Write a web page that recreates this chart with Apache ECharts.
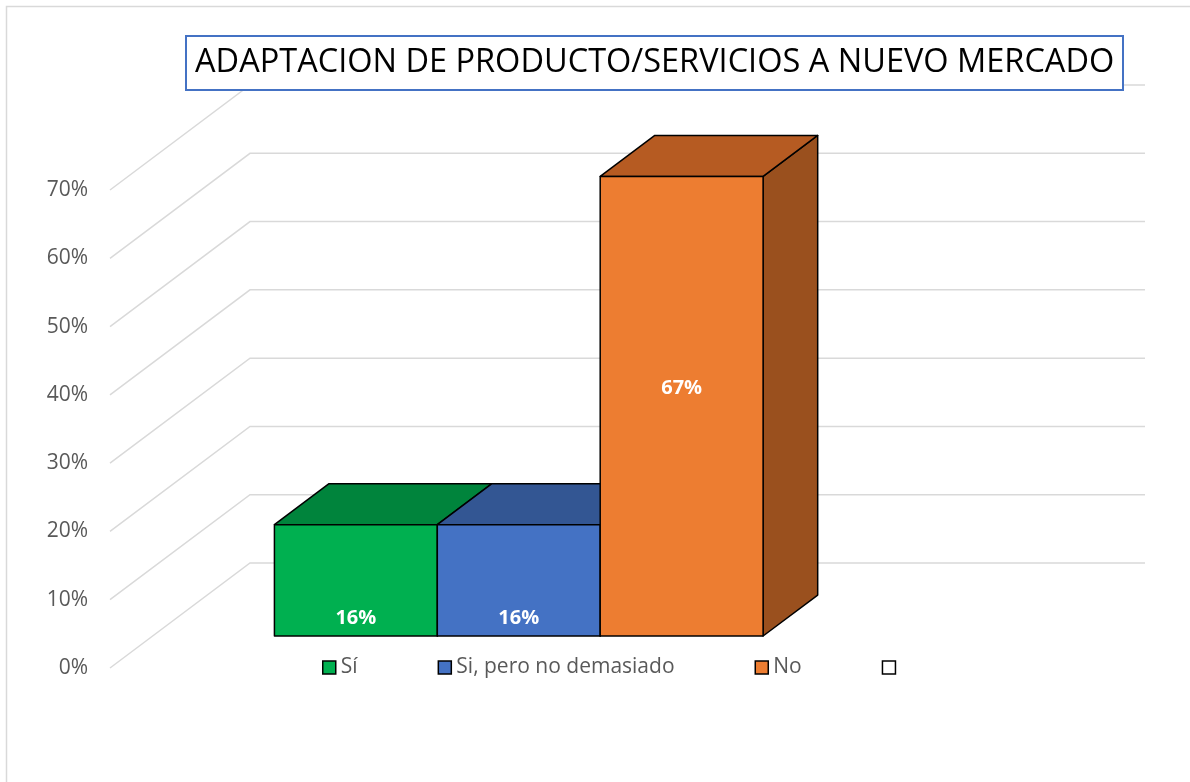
<!DOCTYPE html>
<html>
<head>
<meta charset="utf-8">
<title>Adaptacion de producto/servicios a nuevo mercado</title>
<script src="https://cdn.jsdelivr.net/npm/echarts@6/dist/echarts.min.js"></script>
<style>
  html, body { margin: 0; padding: 0; background: #fff; }
  #chart { width: 1190px; height: 782px; }
</style>
</head>
<body>
<div id="chart"></div>
<script>
const categories = ['Respuesta'];
const seriesNames = ['Sí', 'Si, pero no demasiado', 'No', ' '];
const values = [0.163, 0.163, 0.673, null];
const yTicks = [0, 0.1, 0.2, 0.3, 0.4, 0.5, 0.6, 0.7];

// front / top / side shades for each series
const faceColors = [
  { front: '#00B050', top: '#00843C', side: '#007A37' },
  { front: '#4472C4', top: '#335693', side: '#2E4D84' },
  { front: '#ED7D31', top: '#B65B22', side: '#9A501E' },
  { front: '#FFFFFF', top: '#FFFFFF', side: '#FFFFFF' }
];

const DEPTH_X = 140, DEPTH_Y = -105;       // back wall offset from the front plane
const BAR_FRONT = 0.305, BAR_BACK = 0.695; // bar faces as a share of the depth
const BAR_SHARE = 0.182;                   // one bar as a share of the category band
const FONT = '"Open Sans", "Noto Sans", sans-serif';

const chart = echarts.init(document.getElementById('chart'));

const renderWall = (params, api) => {
  const cs = params.coordSys;
  const y = api.coord([0, api.value(1)])[1];
  const x0 = cs.x, x1 = cs.x + cs.width;
  return {
    type: 'polyline',
    shape: { points: [[x0, y], [x0 + DEPTH_X, y + DEPTH_Y], [x1 + DEPTH_X, y + DEPTH_Y]] },
    style: { stroke: '#D9D9D9', lineWidth: 1.5, fill: 'none' }
  };
};

const makeBarRender = (i) => (params, api) => {
  const base = api.coord([api.value(0), 0]);
  const peak = api.coord([api.value(0), api.value(1)]);
  const w = api.size([1, 0])[0] * BAR_SHARE;
  const left = base[0] + (i - seriesNames.length / 2) * w;
  const fx = DEPTH_X * BAR_FRONT, fy = DEPTH_Y * BAR_FRONT;
  const dx = DEPTH_X * (BAR_BACK - BAR_FRONT), dy = DEPTH_Y * (BAR_BACK - BAR_FRONT);
  const xl = left + fx, xr = left + w + fx;
  const yb = base[1] + fy, yt = peak[1] + fy;
  const h = yb - yt;
  const c = faceColors[i];
  const edge = { stroke: '#000', lineWidth: 1.5, lineJoin: 'round' };
  const labelY = h > 200 ? yt + h * 0.46 : yb - 18;
  return {
    type: 'group',
    children: [
      { type: 'polygon', shape: { points: [[xr, yt], [xr + dx, yt + dy], [xr + dx, yb + dy], [xr, yb]] },
        style: Object.assign({ fill: c.side }, edge) },
      { type: 'polygon', shape: { points: [[xl, yt], [xr, yt], [xr + dx, yt + dy], [xl + dx, yt + dy]] },
        style: Object.assign({ fill: c.top }, edge) },
      { type: 'polygon', shape: { points: [[xl, yb], [xr, yb], [xr, yt], [xl, yt]] },
        style: Object.assign({ fill: c.front }, edge) },
      { type: 'text', z2: 10,
        style: { text: Math.round(api.value(1) * 100) + '%', x: (xl + xr) / 2, y: labelY,
          fill: '#fff', fontSize: 20, fontWeight: 'bold', fontFamily: FONT,
          align: 'center', verticalAlign: 'middle' } }
    ]
  };
};

const barSeries = seriesNames.map((name, i) => ({
  name: name,
  type: 'custom',
  z: 3,
  itemStyle: { color: faceColors[i].front },
  renderItem: makeBarRender(i),
  data: values[i] == null ? [] : [[0, values[i]]]
}));

chart.setOption({
  animation: false,
  graphic: [{
    type: 'rect',
    shape: { x: 6.5, y: 6.5, width: 1300, height: 900 },
    style: { fill: 'none', stroke: '#D9D9D9', lineWidth: 1.5 }
  }],
  title: {
    text: 'ADAPTACION DE PRODUCTO/SERVICIOS A NUEVO MERCADO',
    left: 186,
    top: 36,
    padding: [10, 9, 11, 9],
    borderColor: '#4472C4',
    borderWidth: 2,
    backgroundColor: '#fff',
    z: 10,
    textStyle: { fontSize: 32.5, fontWeight: 'normal', color: '#000', fontFamily: FONT }
  },
  legend: {
    data: seriesNames,
    left: 317,
    top: 652,
    icon: 'rect',
    itemWidth: 13,
    itemHeight: 13,
    itemGap: 80,
    selectedMode: false,
    itemStyle: { borderColor: '#000', borderWidth: 1.5 },
    textStyle: { fontSize: 21, color: '#595959', fontFamily: FONT }
  },
  grid: { left: 110, right: 185, top: 190, bottom: 114 },
  xAxis: { type: 'category', data: categories, show: false },
  yAxis: {
    type: 'value',
    min: 0,
    max: 0.7,
    interval: 0.1,
    axisLine: { show: false },
    axisTick: { show: false },
    splitLine: { show: false },
    axisLabel: {
      margin: 22,
      color: '#595959',
      fontSize: 21,
      fontFamily: FONT,
      formatter: v => Math.round(v * 100) + '%'
    }
  },
  series: [{
    name: 'wall',
    type: 'custom',
    z: 1,
    silent: true,
    renderItem: renderWall,
    data: yTicks.map(t => [0, t])
  }].concat(barSeries)
});
</script>
</body>
</html>
